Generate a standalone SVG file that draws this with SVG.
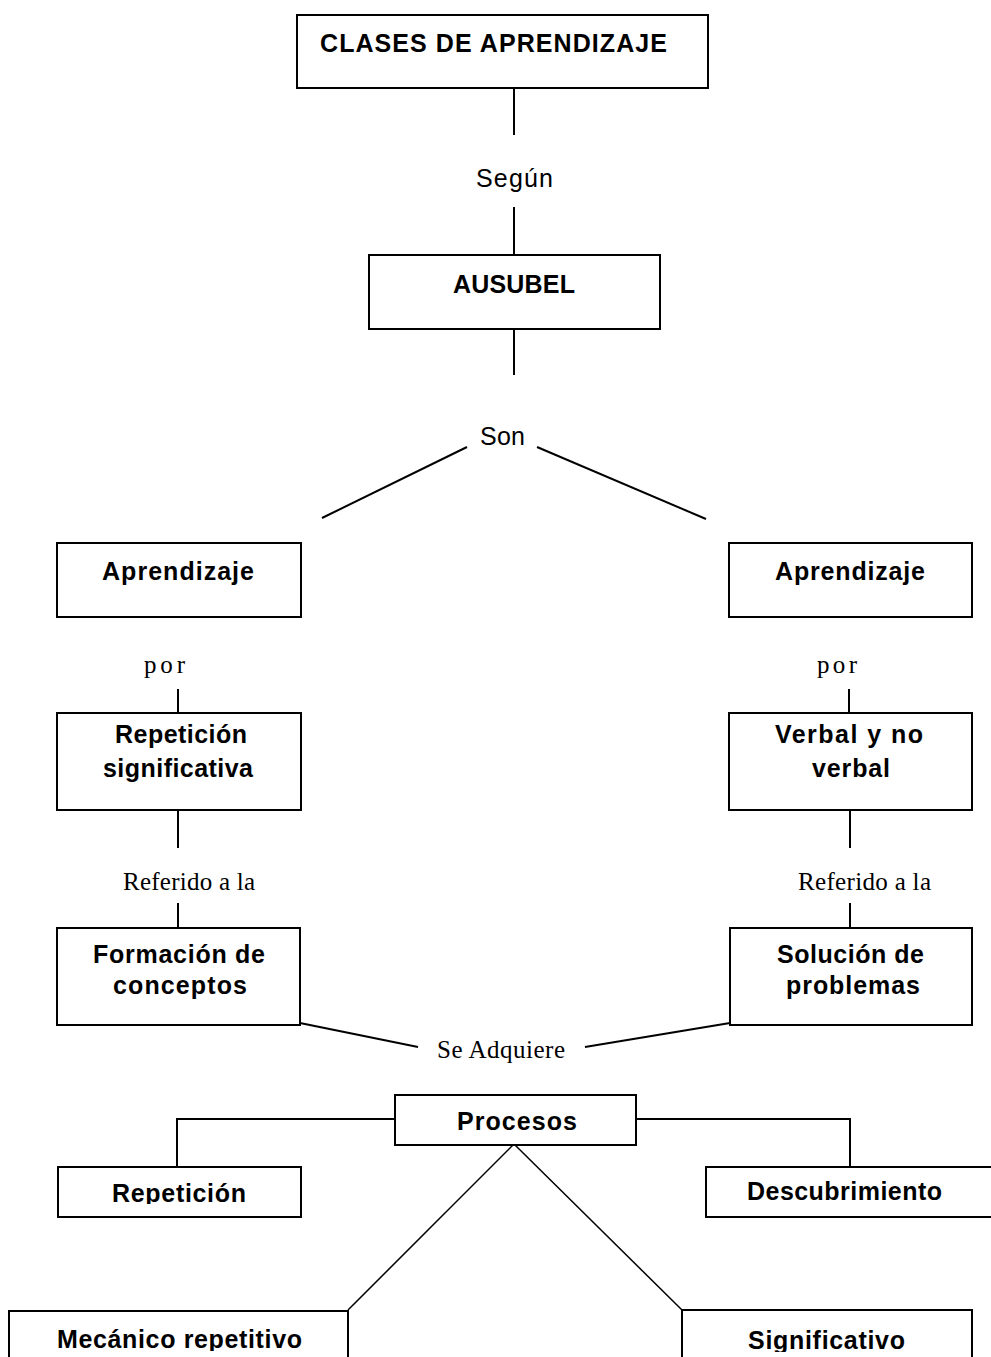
<svg xmlns="http://www.w3.org/2000/svg" width="991" height="1357" viewBox="0 0 991 1357">
  <style>
    .box { fill: #fff; stroke: #000; stroke-width: 2; }
    .wire { fill: none; stroke: #000; stroke-width: 2; }
    .thin { fill: none; stroke: #000; stroke-width: 1.5; }
    .b { font-family: "Liberation Sans", Arial, sans-serif; font-weight: bold; font-size: 25px; fill: #000; }
    .s { font-family: "Liberation Sans", Arial, sans-serif; font-size: 25px; fill: #000; }
    .r { font-family: "Liberation Serif", "Times New Roman", serif; font-size: 25px; fill: #000; }
  </style>
  <defs>
    <clipPath id="clipRep"><rect x="58" y="1167" width="243" height="37"/></clipPath>
    <clipPath id="clipMec"><rect x="9" y="1311" width="339" height="40"/></clipPath>
    <clipPath id="clipSig"><rect x="682" y="1310" width="290" height="42"/></clipPath>
  </defs>
  <rect width="991" height="1357" fill="#fff"/>

  <!-- connectors and linking words -->
  <g id="connectors">
    <line class="wire" x1="514" y1="88" x2="514" y2="135"/>
    <text class="s" x="476" y="187" textLength="77" lengthAdjust="spacing">Según</text>
    <line class="wire" x1="514" y1="207" x2="514" y2="255"/>
    <line class="wire" x1="514" y1="329" x2="514" y2="375"/>
    <text class="s" x="480" y="445" textLength="45" lengthAdjust="spacing">Son</text>
    <line class="wire" x1="467" y1="447" x2="322" y2="518"/>
    <line class="wire" x1="537" y1="447" x2="706" y2="519"/>

    <text class="r" x="144" y="673" textLength="41" lengthAdjust="spacing">por</text>
    <line class="wire" x1="178" y1="689" x2="178" y2="713"/>
    <text class="r" x="817" y="673" textLength="40" lengthAdjust="spacing">por</text>
    <line class="wire" x1="849" y1="689" x2="849" y2="713"/>

    <line class="wire" x1="178" y1="810" x2="178" y2="848"/>
    <text class="r" x="123" y="890" textLength="132" lengthAdjust="spacing">Referido a la</text>
    <line class="wire" x1="178" y1="903" x2="178" y2="928"/>
    <line class="wire" x1="850" y1="810" x2="850" y2="848"/>
    <text class="r" x="798" y="890" textLength="133" lengthAdjust="spacing">Referido a la</text>
    <line class="wire" x1="850" y1="903" x2="850" y2="928"/>

    <line class="wire" x1="300" y1="1023" x2="418" y2="1047"/>
    <text class="r" x="437" y="1058" textLength="128" lengthAdjust="spacing">Se Adquiere</text>
    <line class="wire" x1="585" y1="1047" x2="730" y2="1023"/>

    <polyline class="wire" points="395,1119 177,1119 177,1167"/>
    <polyline class="wire" points="636,1119 850,1119 850,1167"/>
    <line class="thin" x1="514" y1="1144" x2="348" y2="1310"/>
    <line class="thin" x1="514" y1="1144" x2="682" y2="1310"/>
  </g>

  <g id="clases">
    <rect class="box" x="297" y="15" width="411" height="73"/>
    <text class="b" x="320" y="52" textLength="347" lengthAdjust="spacing">CLASES DE APRENDIZAJE</text>
  </g>

  <g id="ausubel">
    <rect class="box" x="369" y="255" width="291" height="74"/>
    <text class="b" x="453" y="293" textLength="122" lengthAdjust="spacing">AUSUBEL</text>
  </g>

  <g id="aprendizaje-izq">
    <rect class="box" x="57" y="543" width="244" height="74"/>
    <text class="b" x="102" y="580" textLength="152" lengthAdjust="spacing">Aprendizaje</text>
  </g>

  <g id="aprendizaje-der">
    <rect class="box" x="729" y="543" width="243" height="74"/>
    <text class="b" x="775" y="580" textLength="150" lengthAdjust="spacing">Aprendizaje</text>
  </g>

  <g id="repeticion-significativa">
    <rect class="box" x="57" y="713" width="244" height="97"/>
    <text class="b" x="115" y="743" textLength="132" lengthAdjust="spacing">Repetición</text>
    <text class="b" x="103" y="777" textLength="150" lengthAdjust="spacing">significativa</text>
  </g>

  <g id="verbal">
    <rect class="box" x="729" y="713" width="243" height="97"/>
    <text class="b" x="775" y="743" textLength="148" lengthAdjust="spacing">Verbal y no</text>
    <text class="b" x="812" y="777" textLength="78" lengthAdjust="spacing">verbal</text>
  </g>

  <g id="formacion">
    <rect class="box" x="57" y="928" width="243" height="97"/>
    <text class="b" x="93" y="963" textLength="172" lengthAdjust="spacing">Formación de</text>
    <text class="b" x="113" y="994" textLength="134" lengthAdjust="spacing">conceptos</text>
  </g>

  <g id="solucion">
    <rect class="box" x="730" y="928" width="242" height="97"/>
    <text class="b" x="777" y="963" textLength="147" lengthAdjust="spacing">Solución de</text>
    <text class="b" x="786" y="994" textLength="134" lengthAdjust="spacing">problemas</text>
  </g>

  <g id="procesos">
    <rect class="box" x="395" y="1095" width="241" height="50"/>
    <text class="b" x="457" y="1130" textLength="120" lengthAdjust="spacing">Procesos</text>
  </g>

  <g id="repeticion">
    <rect class="box" x="58" y="1167" width="243" height="50"/>
    <text class="b" x="112" y="1202" textLength="134" lengthAdjust="spacing" clip-path="url(#clipRep)">Repetición</text>
  </g>

  <g id="descubrimiento">
    <rect class="box" x="706" y="1167" width="300" height="50"/>
    <text class="b" x="747" y="1200" textLength="195" lengthAdjust="spacing">Descubrimiento</text>
  </g>

  <g id="mecanico">
    <rect class="box" x="9" y="1311" width="339" height="80"/>
    <text class="b" x="57" y="1348" textLength="245" lengthAdjust="spacing" clip-path="url(#clipMec)">Mecánico repetitivo</text>
  </g>

  <g id="significativo">
    <rect class="box" x="682" y="1310" width="290" height="80"/>
    <text class="b" x="748" y="1349" textLength="157" lengthAdjust="spacing" clip-path="url(#clipSig)">Significativo</text>
  </g>
</svg>
